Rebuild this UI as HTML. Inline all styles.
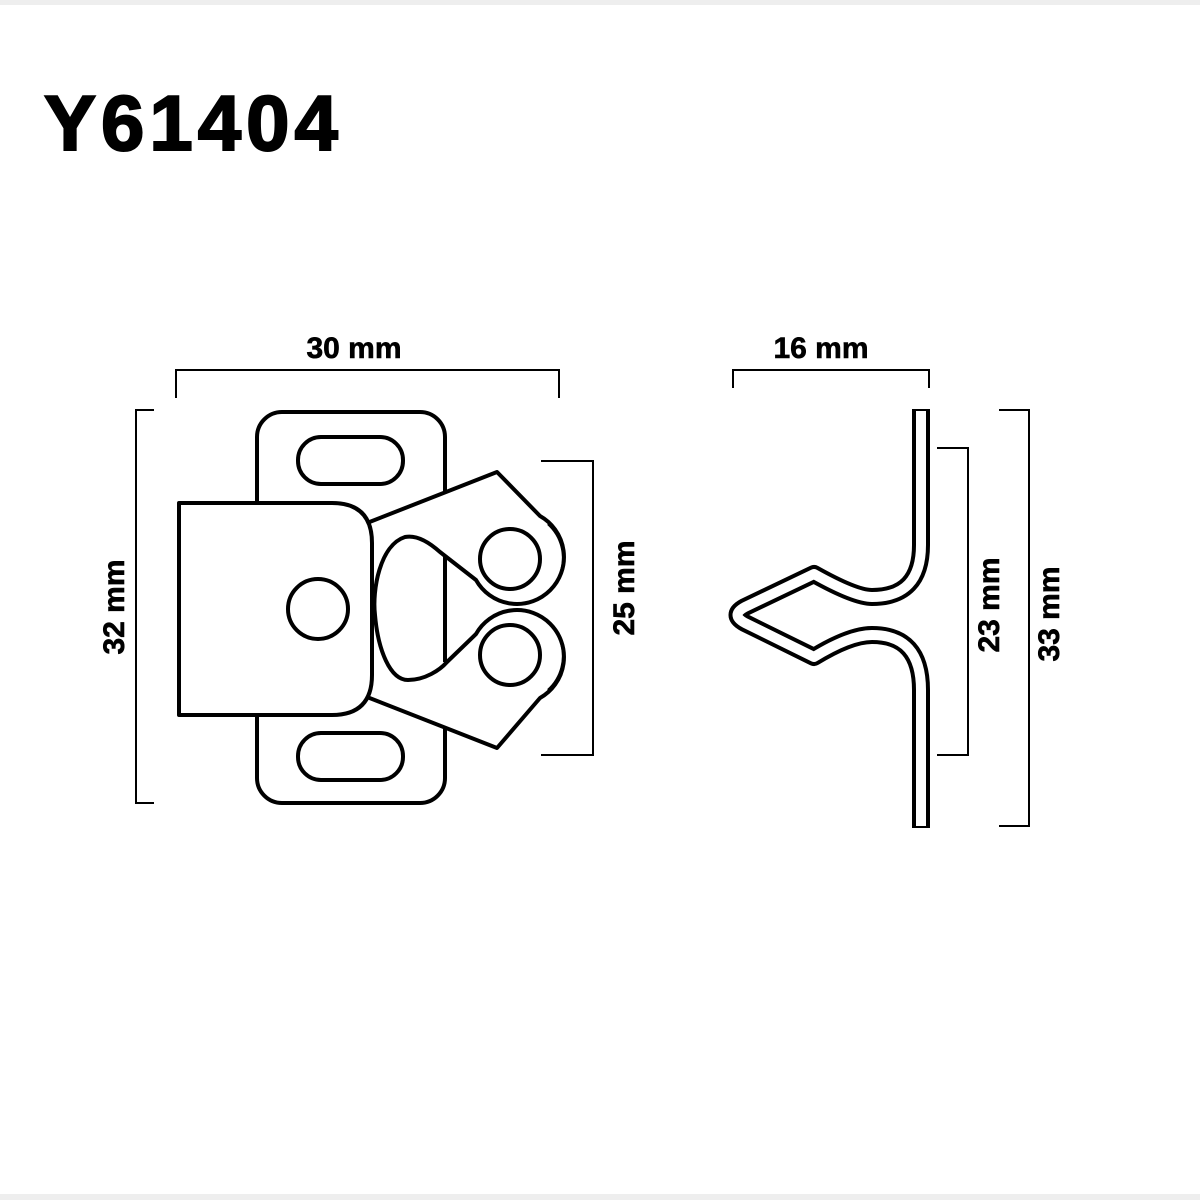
<!DOCTYPE html>
<html><head><style>html,body{margin:0;padding:0;background:#fff}svg{display:block}</style></head>
<body>
<svg width="1200" height="1200" viewBox="0 0 1200 1200" xmlns="http://www.w3.org/2000/svg">
<rect x="0" y="0" width="1200" height="1200" fill="#fff"/>
<rect x="0" y="0" width="1200" height="5" fill="#eee"/>
<rect x="0" y="1194" width="1200" height="6" fill="#eee"/>
<text x="44" y="150" font-family="Liberation Sans, sans-serif" font-weight="bold" font-size="78" letter-spacing="5" fill="#000" stroke="#000" stroke-width="2">Y61404</text>

<g fill="none" stroke="#000" stroke-width="2">
<polyline points="176,398 176,370 559,370 559,398"/>
<polyline points="154,410 136,410 136,803 154,803"/>
<polyline points="541,461 593,461 593,755 541,755"/>
<polyline points="733,388 733,370 929,370 929,388"/>
<polyline points="937,448 968,448 968,755 937,755"/>
<polyline points="999,410 1029,410 1029,826 999,826"/>
</g>
<g font-family="Liberation Sans, sans-serif" font-weight="bold" font-size="30" fill="#000" text-anchor="middle" stroke="#000" stroke-width="0.6">
<text x="354" y="358">30 mm</text>
<text x="821" y="358">16 mm</text>
<text transform="translate(124,607) rotate(-90)">32 mm</text>
<text transform="translate(634,588) rotate(-90)">25 mm</text>
<text transform="translate(999,605) rotate(-90)">23 mm</text>
<text transform="translate(1059,614) rotate(-90)">33 mm</text>
</g>

<g stroke="#000" stroke-width="4" fill="#fff" stroke-linejoin="round">
<rect x="257" y="412" width="188" height="391" rx="25"/>
<rect x="298" y="437" width="105" height="47" rx="23"/>
<rect x="298" y="733" width="105" height="47" rx="23"/>
<polygon points="367,520 497,472 560,525 567,600 567,620 560,700 497,748 367,700" stroke="none"/>
<circle cx="517" cy="557" r="47" stroke="none"/>
<circle cx="517" cy="657" r="47" stroke="none"/>
<path d="M445,557 L445,662" fill="none"/>
<path d="M367,523 L497,472 L540,516 A47,47 0 1 1 476,580 L440,552 Q420,534 405,537 C380,545 372,590 375,615 C378,650 390,680 408,680 C425,680 440,670 447,662 L476,634 A47,47 0 1 1 540,698 L497,748 L367,697" fill="none"/>
<path d="M548,524 A46,46 0 0 1 520,604" fill="none" stroke-width="2.5"/>
<path d="M520,610 A46,46 0 0 1 548,690" fill="none" stroke-width="2.5"/>
<circle cx="510" cy="559" r="30"/>
<circle cx="510" cy="655" r="30"/>
<path d="M179,503 L332,503 Q372,503 372,543 L372,675 Q372,715 332,715 L179,715 Z"/>
<circle cx="318" cy="609" r="30"/>
</g>

<g fill="none" stroke-linejoin="round" stroke-linecap="butt">
<path d="M921,409 L921,545 Q921,597 872,597 Q855,597 814,574 L745,607 Q730,615 745,623 L814,657 Q850,635 872,635 Q921,635 921,690 L921,828" stroke="#000" stroke-width="18"/>
<path d="M921,411 L921,545 Q921,597 872,597 Q855,597 814,574 L745,607 Q730,615 745,623 L814,657 Q850,635 872,635 Q921,635 921,690 L921,826" stroke="#fff" stroke-width="10"/>
</g>
</svg>
</body></html>
